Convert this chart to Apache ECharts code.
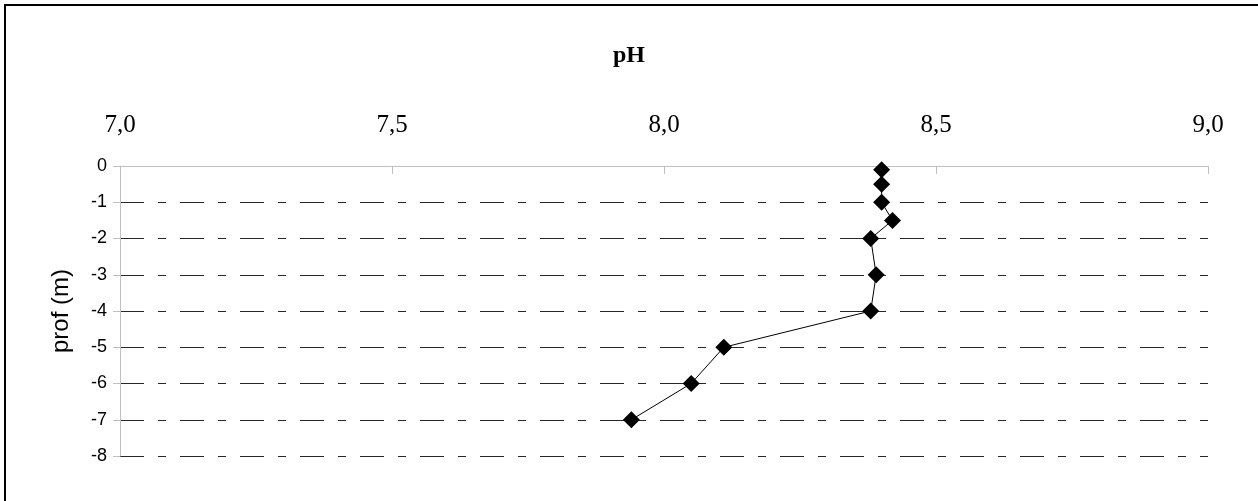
<!DOCTYPE html>
<html>
<head>
<meta charset="utf-8">
<script src="https://cdn.jsdelivr.net/npm/echarts@6/dist/echarts.min.js"></script>
<style>
  html, body { margin: 0; padding: 0; background: #fff; }
  #wrap { position: relative; width: 1258px; height: 501px; overflow: hidden; }
  #frame { position: absolute; left: 4px; top: 4px; width: 1400px; height: 600px;
           border-left: 2px solid #000; border-top: 2px solid #000; box-sizing: border-box; }
  #chart { position: absolute; left: 0; top: 0; width: 1258px; height: 501px; }
</style>
</head>
<body>
<div id="wrap">
  <div id="frame"></div>
  <div id="chart"></div>
</div>
<script>
// Data
const depth = [-0.1, -0.5, -1, -1.5, -2, -3, -4, -5, -6, -7];
const phValues = [8.40, 8.40, 8.40, 8.42, 8.38, 8.39, 8.38, 8.11, 8.05, 7.94];
const xTickLabels = ['7,0', '7,5', '8,0', '8,5', '9,0'];
const titleText = 'pH';
const yAxisName = 'prof (m)';

const points = phValues.map((v, i) => [v, depth[i]]);

const chart = echarts.init(document.getElementById('chart'), null, { renderer: 'canvas' });
chart.setOption({
  animation: false,
  backgroundColor: 'transparent',
  title: {
    text: titleText,
    left: 'center',
    top: 39,
    textStyle: { fontFamily: 'Liberation Serif', fontWeight: 'bold', fontSize: 24, color: '#000' }
  },
  grid: { left: 120, right: 50, top: 166, bottom: 45, containLabel: false },
  xAxis: {
    type: 'value',
    position: 'top',
    min: 7, max: 9, interval: 0.5,
    axisLine: { show: true, onZero: false, lineStyle: { color: '#bfbfbf', width: 1 } },
    axisTick: { show: true, inside: true, length: 8, lineStyle: { color: '#bfbfbf' } },
    axisLabel: {
      margin: 28,
      fontFamily: 'Liberation Serif', fontSize: 25, color: '#000',
      formatter: function (v) {
        const idx = Math.round((v - 7) / 0.5);
        return xTickLabels[idx] !== undefined ? xTickLabels[idx] : '';
      }
    },
    splitLine: { show: false }
  },
  yAxis: {
    type: 'value',
    min: -8, max: 0, interval: 1,
    name: yAxisName,
    nameLocation: 'middle',
    nameGap: 47,
    nameTextStyle: { fontFamily: 'Liberation Sans', fontSize: 24, color: '#000' },
    axisLine: { show: true, onZero: false, lineStyle: { color: '#bfbfbf', width: 1 } },
    axisTick: { show: true, inside: false, length: 7, lineStyle: { color: '#bfbfbf' } },
    axisLabel: { margin: 13, fontFamily: 'Liberation Sans', fontSize: 18, color: '#000' },
    splitLine: {
      show: true,
      showMaxLine: false,
      showMinLine: true,
      lineStyle: { color: '#262626', width: 1, type: [24, 14, 8, 14] }
    }
  },
  series: [{
    type: 'line',
    data: points,
    symbol: 'diamond',
    symbolSize: 17,
    lineStyle: { color: '#000', width: 1 },
    itemStyle: { color: '#000' },
    z: 5
  }]
});
</script>
</body>
</html>
